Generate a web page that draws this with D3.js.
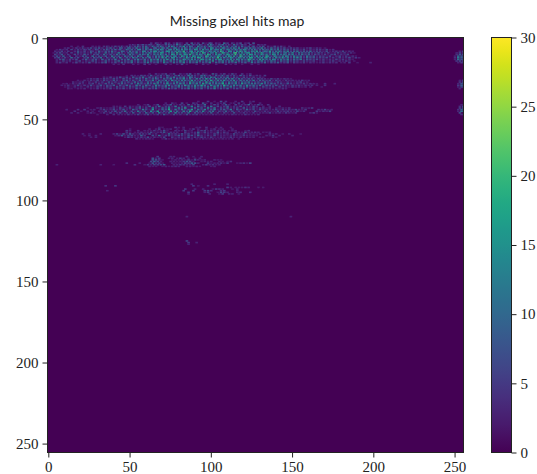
<!DOCTYPE html>
<html>
<head>
<meta charset="utf-8">
<script src="https://cdnjs.cloudflare.com/ajax/libs/d3/7.8.5/d3.min.js"></script>
<style>
  html, body { margin: 0; padding: 0; background: #fff; }
</style>
</head>
<body>
<svg id="chart"></svg>
<script>
// hits per pixel; base-36 digit per column, '.' is zero
// each entry is [row, first column, digits]
const band1 = [
  [3, 62, '.4..63.2..8.5..3.7.42..6..9.3.5..7.2.86..4.3..a.5..62.4.7..3.5..8'],
  [4, 50, '3.52.6.37.4.85.2.a6.3.7.94.5.c.62.8.a.37.5.b4.2.8.c5.3.7.9.4.62.a.5.37.4..6.2..5.3.4'],
  [5, 14, '3...2..4.....3.2.3..4.52.3.6.4.72.5.83.6.a4.7.9.3.b5.8.c6.4.a.d7.5.9.e.6.b8.3.c.7.a4.d9.5.8.b.6.c3.7.a.5.9.4.6.28.3.5.7..4.2.6.3.5.2..3'],
  [6, 10, '3.4..2.5.3.62.4.7.35.8.4.26.9.5.3.a7.4.b8.6.c.5.9.d7.3.ba.6.e8.c.5.ad.7.9.f6.b.8.e.a7.c.5.gb.9.6.dc.8.a.f7.e.5.b9.c.a6.8.d.7.4.a.6.9.5.7.3.6.4.5.2.3.4.6.2.4.3..2'],
  [7, 5, '2.5.3.4..6.2.5.3.74.6.2.85.3.7.94.6.a.58.3.c7.9.5.bd.6.a.8e.7.c.fb.5.ad.9.g7.e.ba.c6.hd.8.f.a9.e.7cb.g.6.da.9.f8.b.ec.7.a.d5.9.b.86.c.7.a.5.8.6.4.7.5.3.6.2.4.3.5.5.3.6.2.4'],
  [8, 4, '4.3.6.2.5.1.4.7.3.6.2.85.3.9.4.7.6.a.5.3.b8.4.c.7.9.5.dc.6.a.fe.8.b.7gd.9.c.ea.i.6.bf.8.d.hc.7.ga.e.9.jb.5.fd.8.c.ia.e.7.db.g.9.6ca.f.8.b.e7.a.d.6.9.b.5.8.7.a.4.6.5.3.7.2.4.5.3.6.2.4.3'],
  [9, 3, '2.5.7.3.4..6.2.8.4.5.3.9.26.7.3.a.5.8.4.c.7.3.9.b6.d.5.a.8.e7.c.9.gf.6.b.d8.i.a.ce.7.hb.f.9.jd.8.ca.g.6.ie.b.7.fk.a.d.9cg.8.e.b.ha.7.d.c9.f.6.ab.8.d.5.c.9.7.a.6.4.8.5.3.6.2.4.7.3.5.2.4.2'],
  [10, 4, '6.3.8.2.5.1.7.4.3.9.5.2.6.8.3.a.4.7.5.b.6.9.3.d.8.4.a.c7.e.5.b.9.f8.c.6.hd.a.e.7gb.i.8.c.fa.9.jd.6.e.gb.8.hc.a.k7.f.d.9.ie.b.6.ga.c.8.fd.9.a.e7.b.c.5.8.a.6.9.4.7.5.3.6.2.5.7.2.4.3.6'],
  [11, 3, '3.7.4.9.2.6.1.5.3.8.6.2.a.4.7.5.9.3.c.6.8.4.b.7.a.5.d.9.3.e8.6.c.a.g7.f.9.bd.5.ia.e.8.hc.b.f6.jd.a.9.ge.7.c.hb.f.8.kd.a.e.c7.g.b.9.id.6.fa.8.c.eb.7.d.9.a.5.c.7.8.4.6.5.3.7.2.4.6.3.5.2.4.2'],
  [12, 4, '5.8.3.6.2.a.4.7.1.5.9.3.8.6.b.2.7.4.a.5.c.3.8.6.d.9.4.b.7.e.5.a.8.f.c.6.gd.9.b.7.ha.e.c.if.8.d.b.g6.j.a.e.9.hc.7.fb.d.a.ig.8.c.e.9f.b.7.d.a.g8.c.6.b.e.9.5.a.7.8.4.6.5.7.3.5.2.6.3.4.7.2.5.3'],
  [13, 5, '3.6.8.2.5.4.7.1.5.9.3.6.8.2.a.4.7.5.c.3.9.6.b.4.8.d.6.a.5.c.9.e.7.b.f.8.d.a.6.gc.9.e.b.7.hd.a.f.8.c.ge.6.b.d.9.fa.c.8.ie.b.7.g.d.a.9.ec.6.b.8.d.5.a.7.c.4.8.6.5.7.3.5.2.4.3.6.3.5.2.4.2'],
  [14, 5, '4.2.6.3.5.1.4.7.2.5.3.8.6.2.4.9.5.3.7.a.4.8.6.c.5.9.3.b.7.d.6.a.8.e.5.c.9.7.f.b.6.d.8.a.e.7.c.9.g.5.b.d.8.a.f.6.c.9.7.e.b.5.a.d.8.6.c.9.4.b.7.a.5.8.6.3.7.5.4.6.2.3.5.2.4.6.2.4.3.5.3..2'],
  [15, 5, '3.5.2.4.1.3.6.2.4.3.7.2.5.3.6.8.2.4.7.3.9.5.6.a.3.7.4.8.b.5.6.9.3.c.7.4.a.6.8.d.5.9.7.b.4.8.6.c.3.9.7.a.5.8.6.b.4.7.9.3.c.6.8.5.a.3.7.6.9.4.5.8.2.6.4.3.5.2.4.3.2.3.5.2.4.3.4..2.3..5....2.......3'],
  [16, 40, '3..2..4.....3..2...5..3...2.....4..2...3..6..2.....3...4..2....3.....5..2..3...2.....3...2']
];
const band2 = [
  [22, 62, '3...5.2.4.6..3.7...4.2.5.8..3.6..4.2...9.5..3.6..2.7.3...5..2.4'],
  [23, 48, '2..4.3.2.6.5.3.8.2.4.7.3.a5.2.6.9.4.3.b.7.5.3.9.c4.6.2.8.5.a3.7.4.6.2.9.5.3.7.2.4.3..5'],
  [24, 34, '3.2.5.2.4.7.3.6.2.8.4.6.a.3.7.5.b4.8.3.9.6.c.5.7.a.4.d8.6.3.b.7.5.c.9.4.8.6.a.3.7.5.2.6.4.3.5.2.4.2'],
  [25, 24, '2.4.3.5.2.6.4.3.7.5.2.8.4.6.3.9.7.5.a.4.8.c6.3.9.7.d.5.a.8.e.6.b.4.c.9.7.f.a.5.d.8.6.b.9.c.5.a.7.4.8.6.3.7.5.4.2.6.3.5.2.4.3.2'],
  [26, 18, '3.1.4.2.5.3.6.2.7.4.3.8.5.2.6.9.4.7.3.a.5.8.6.c.4.9.7.b.5.e.8.6.c.a.7.f.9.5.d.b.8.g.6.c.a.e.7.9.d.5.b.8.a.6.c.4.9.7.5.8.3.6.4.2.5.3.4.2.3.5.2.3'],
  [27, 15, '4.2.3.5.1.4.2.6.3.5.2.8.4.6.3.9.5.7.4.b.6.8.3.a.7.5.d.9.6.c.4.8.e.7.a.5.f.b.8.d.6.g.9.c.a.7.e.5.b.8.d.6.a.9.c.5.7.8.4.b.6.5.3.7.4.2.5.3.2.4.6.2.3'],
  [28, 9, '2.3.1.4.2.5.3.1.4.6.2.5.3.8.4.7.2.6.9.5.3.8.4.b.7.5.a.6.c.9.4.8.e.6.b.7.d.a.5.f.8.c.6.g.9.e.7.b.a.h.6.d.8.c.5.f.9.7.b.a.6.d.8.5.9.7.4.6.3.8.5.2.4.3.5.2.4.3.2....4.....3'],
  [29, 8, '3.2.4.1.3.6.2.5.3.7.2.4.8.3.6.5.9.2.7.4.a.6.3.c.8.5.b.7.4.d.9.6.a.e.5.8.c.7.f.a.6.d.9.g.b.5.e.8.c.7.h.a.6.d.9.b.5.e.8.a.6.c.4.9.7.5.8.3.6.4.2.5.3.5.2.4.3.4..3....4'],
  [30, 10, '2.3.1.4.2.3.1.5.3.2.6.4.3.7.5.2.8.4.6.3.9.5.7.4.b.6.3.8.a.5.7.c.4.9.6.d.8.5.b.7.e.6.a.8.c.5.f.9.7.b.6.d.8.4.a.7.c.5.9.6.3.8.5.4.7.2.6.3.4.2.5.3.4.2.3..3......2'],
  [31, 12, '3.2.1.3.2.4.1.3.2.5.2.4.3.6.2.5.4.7.3.5.2.8.4.6.3.7.5.9.2.6.4.a.5.8.3.7.6.b.4.8.5.9.3.7.6.c.4.8.5.a.3.6.7.4.9.2.5.3.6.4.2.3.4.2.3.2.4.3']
];
const band3 = [
  [39, 92, '3.....5...2...7..4.....3...5....2.4'],
  [40, 72, '3...4.2...6..2...5.3...8.2..4...3.3.6...2.3..5..3...4.....3'],
  [41, 55, '3...2.5...2.7...3.4.8.2.2.5.3..9.2.4.6.3.a...2.7.4..3.8.3...6.2.3.4.9.2.3.7.3...4'],
  [42, 40, '3.2.2..5..4.2.3.6.2.3.8.2.4.a.2.5.7.3.c.2.6.5.3.d.2.9.4.7.3.b.2.6.3.5.8.2.4.3.7.2.3.2.6.4...3...3.....4'],
  [43, 24, '2.....3.4.2.2.3.5.2.7.3.3.8.2.5.a.3.6.2.d.5.3.9.6.f.3.4.c.7.g.2.5.b.4.8.3.e.5.c.2.7.4.a.3.5.6.2.9.4.3.7.3.5.5.2.4...3.2.3.2.4.......4.2.3.5'],
  [44, 11, '3......4...5...2.3...3.6.2.3.7.3.4.8.3.2.a.5.3.d.6.3.f.2.4.9.7.h.3.c.5.b.4.8.g.3.a.5.e.4.7.c.3.6.9.4.d.2.8.5.3.a.4.6.2.7.3.4.2.3.5.2.5.3.4.3.6.3.2.5.......4.3.6.2.3'],
  [45, 16, '4...2...3..2...3.2.6.2.4.8.2.5.a.2.6.3.c.4.7.2.e.5.f.3.8.4.g.5.9.3.c.7.h.4.a.5.d.3.8.b.2.6.4.9.3.7.2.5.2.4.3.2.7.3.2.5.3.2.2.6.3.4.5.3.2.6.2.4.......5.2.4.3.6'],
  [46, 14, '3...3.....2.4.2...2.5.2.6.2.4.7.2.5.3.9.2.6.3.a.4.8.3.c.5.4.9.3.d.5.7.4.a.2.8.5.6.3.4.9.2.5.2.6.3.2.8.2.3.5.3.2.5.2.3.3.3.6.2.3.4.2.5.3.2.4........3.5.2'],
  [47, 30, '2.....3...4..3.2.2.5.2.3.6.2.4.7.2.3.5.2.8.3.2.6.3.4.2.7.3.4.5.2.3.3.2.4.3.2.3.2.2.4.3.2.2.5.3.2.2.4']
];
const band4 = [
  [55, 66, '..3.2.......5.2..3.......2.3...4.....2..3.....2'],
  [56, 50, '2...........3...2.6..2.2.3...2...3...2.5..3....3..2.4..2.3.....3'],
  [57, 48, '5.3....4...3.2.2.5.2.3.7.2....4.3.2.6.2.3...3.5.6.2.4.2.4.3.3..2.3.3.....2.4'],
  [58, 48, '4.2..2.3.4.2.3.6.2.3.5.8.2.4.3.3....5.2.3.4.9.2.6.3.3.2.7.2.5.3....4.3.2.7.2.3.4.3..2.2.3'],
  [59, 21, '3...2......3.......3.6.2.7.3.9.4.2.6.5.3.8.2.4...3.2.a.4.5.3.8.4.6.2.5.7.2.3.4.2.6.5.3.3.4.2.7.3.2.5.2.3.2.2.3.....4.2.3...2...3......2'],
  [60, 22, '2..3...3...........2.4.8.2.5.6.3.2.9.4....7.3.a.2.5.6.3.4.8.5.2.6.7.3.9.4.2.5.2.6.2.3.3.2.3.4.2.2.5.3.2.3.2.....3.2.5...3.......3'],
  [61, 26, '2..3.................2.6.4.2.3.5.3.7.2.4.2.3.6....5.2.4.3.3.7.2.5.3.6.4.2.5.2.2.4.3.2.5.3.2.4.2.3.2.3...2.2.....3.2'],
  [62, 54, '4.2.2.3.3.2.....2.5.2.2.3.2.4.3.2.3..2.2.3.2.2.3.2.2.3.2.2.3...2']
];
const band5 = [
  [73, 66, '.5.......3.3.......4...2....3'],
  [74, 64, '7.3.5.....3.3..2.5.3..2...2..3'],
  [75, 64, '8.7.4.2.....2.3.2.3.2.5.2.7.3.2.3.....3.2.2'],
  [76, 63, '6.9.6.3.....3.3.2.3.5.8.6.2....2.3.2.3....3.2..2.4'],
  [77, 48, '4.......3.....2.8.4.5.2.....3.2.2.3.6.5.9.8.3.....5.2.3.3.4.2.5.....2.3.4.2.6'],
  [78, 5, '3..........................3.......2............4.....2.5.3.6.5.6.8.....3.3.5.4.3.3.6.....3.5.3.4.2.3'],
  [79, 62, '3.2.2...2.3.2.3.4.3....3.3.2.3.2......2.3']
];
const band6 = [
  [90, 88, '3.............3.......3'],
  [91, 35, '4.....5...............................................5..2.....4'],
  [92, 110, '5.2..2.2.2.4.3.....2..2'],
  [93, 84, '5.....3....3.....2.5.4.3.....2..3'],
  [94, 36, '3..............................................5.....5......5.6.4.....4.5.......3'],
  [95, 86, '5.........3.5.....2.6.5.3.....3.4.....4'],
  [96, 86, '3............3.....2.5...3.3...2']
];
const strays = [
  [110, 85, '3'],
  [110, 149, '3'],
  [125, 85, '6.'],
  [126, 86, '5....3'],
  [127, 86, '3']
];
// the few hits along the right hand edge of the image
const edge = [
  [8, 252, '.3.5'], [9, 251, '3.6.4'], [10, 251, '4.9.7'], [11, 250, '3.a.8.'], [12, 250, '4.c.9.'],
  [13, 250, '3.b.8.'], [14, 251, '5.7.6'], [15, 252, '3.5'],
  [26, 253, '3.5'], [27, 253, '5.6'], [28, 252, '3.8.'], [29, 252, '5.9.'], [30, 252, '3.7.'], [31, 253, '3.'],
  [41, 254, '3.'], [42, 253, '4.6'], [43, 253, '6.7'], [44, 252, '4.9.'], [45, 252, '3.b.'], [46, 253, '7.'], [47, 254, '4']
];

const rowData = [...band1, ...band2, ...band3, ...band4, ...band5, ...band6, ...strays, ...edge];
const xTicks = [0, 50, 100, 150, 200, 250];
const yTicks = [0, 50, 100, 150, 200, 250];
const colorTicks = [0, 5, 10, 15, 20, 25, 30];
const titleText = 'Missing pixel hits map';

const cells = [];
rowData.forEach(([row, start, digits]) => {
  digits.split('').forEach((ch, i) => {
    if (ch === '.') return;
    cells.push({ row, col: start + i, value: parseInt(ch, 36) });
  });
});

const width = 537;
const height = 474;
const plot = { left: 47.5, right: 463.5, top: 37.5, bottom: 452.5 };
const bar = { left: 491.5, right: 511.5 };
const serif = '"Liberation Serif", serif';

const svg = d3.select('#chart')
  .attr('width', width)
  .attr('height', height)
  .style('display', 'block');

// extent of the image is -0.5..255.5 like imshow
const x = d3.scaleLinear().domain([-0.5, 255.5]).range([plot.left, plot.right]);
const y = d3.scaleLinear().domain([-0.5, 255.5]).range([plot.top, plot.bottom]);
const color = d3.scaleSequential(d3.interpolateViridis).domain([0, 30]);

// slight blur, the original image is interpolated
const defs = svg.append('defs');
defs.append('filter').attr('id', 'soft')
  .attr('x', '-2%').attr('y', '-2%').attr('width', '104%').attr('height', '104%')
  .append('feGaussianBlur').attr('stdDeviation', 0.6);
defs.append('clipPath').attr('id', 'plot-clip')
  .append('rect')
  .attr('x', plot.left).attr('y', plot.top)
  .attr('width', plot.right - plot.left).attr('height', plot.bottom - plot.top);

svg.append('rect')
  .attr('x', plot.left)
  .attr('y', plot.top)
  .attr('width', plot.right - plot.left)
  .attr('height', plot.bottom - plot.top)
  .attr('fill', color(0));

// each cell a bit wider than its column, gaps between hits close up like the interpolated image
const cellW = x(1) - x(0);
const cellH = y(1) - y(0);
svg.append('g')
  .attr('clip-path', 'url(#plot-clip)')
  .append('g')
  .attr('filter', 'url(#soft)')
  .selectAll('rect')
  .data(cells)
  .join('rect')
  .attr('x', d => x(d.col - 0.5))
  .attr('y', d => y(d.row - 0.5))
  .attr('width', cellW * 1.6)
  .attr('height', cellH)
  .attr('fill', d => color(d.value));

// Frame
svg.append('rect')
  .attr('x', plot.left)
  .attr('y', plot.top)
  .attr('width', plot.right - plot.left)
  .attr('height', plot.bottom - plot.top)
  .attr('fill', 'none')
  .attr('stroke', '#222')
  .attr('stroke-width', 1);

function styleAxis(g) {
  g.select('.domain').remove();
  g.selectAll('line').attr('stroke', '#222').attr('stroke-width', 1);
  g.selectAll('text')
    .attr('fill', '#222')
    .style('font-family', serif)
    .style('font-size', '15px');
}

svg.append('g')
  .attr('transform', `translate(0, ${plot.bottom})`)
  .call(d3.axisBottom(x).tickValues(xTicks).tickSize(5).tickPadding(4))
  .call(styleAxis);

svg.append('g')
  .attr('transform', `translate(${plot.left}, 0)`)
  .call(d3.axisLeft(y).tickValues(yTicks).tickSize(5).tickPadding(4))
  .call(styleAxis);

// Colorbar
const barY = d3.scaleLinear().domain([0, 30]).range([plot.bottom, plot.top]);
const barDefs = defs.append('linearGradient')
  .attr('id', 'bar-gradient')
  .attr('x1', 0).attr('x2', 0).attr('y1', 1).attr('y2', 0);
barDefs.selectAll('stop')
  .data(d3.range(0, 30.01, 1))
  .join('stop')
  .attr('offset', d => d / 30)
  .attr('stop-color', d => color(d));

svg.append('rect')
  .attr('x', bar.left)
  .attr('y', plot.top)
  .attr('width', bar.right - bar.left)
  .attr('height', plot.bottom - plot.top)
  .attr('fill', 'url(#bar-gradient)')
  .attr('stroke', '#222')
  .attr('stroke-width', 1);

svg.append('g')
  .attr('transform', `translate(${bar.right}, 0)`)
  .call(d3.axisRight(barY).tickValues(colorTicks).tickSize(5).tickPadding(4))
  .call(styleAxis);

// Title
svg.append('text')
  .attr('x', 237)
  .attr('y', 26)
  .attr('text-anchor', 'middle')
  .style('font-family', 'Lato, sans-serif')
  .style('font-size', '14px')
  .attr('fill', '#222')
  .text(titleText);
</script>
</body>
</html>
